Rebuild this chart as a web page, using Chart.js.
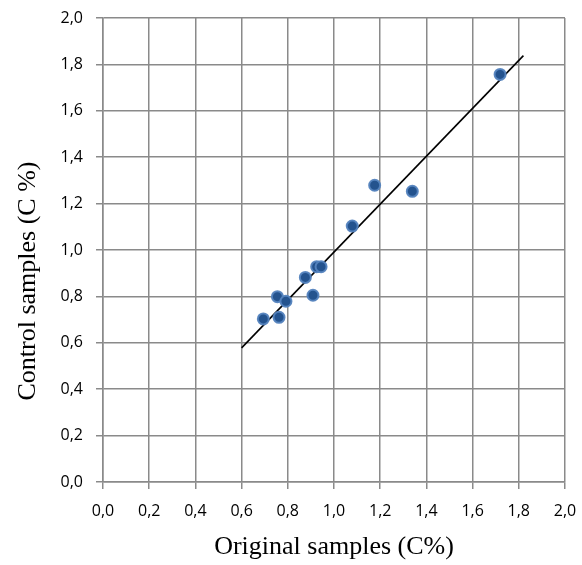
<!DOCTYPE html>
<html>
<head>
<meta charset="utf-8">
<script src="https://cdn.jsdelivr.net/npm/chart.js@4"></script>
<style>
  html, body { margin: 0; padding: 0; background: #fff; }
  #wrap { width: 582px; height: 565px; }
</style>
</head>
<body>
<div id="wrap"><canvas id="scatter-chart"></canvas></div>
<script>
const originalX = [0.694, 0.762, 0.755, 0.792, 0.909, 0.876, 0.925, 0.944, 1.079, 1.176, 1.339, 1.719]
const controlY = [0.703, 0.710, 0.799, 0.779, 0.805, 0.882, 0.928, 0.928, 1.103, 1.279, 1.253, 1.757]
const trendX = [0.6, 1.82]
const trendY = [0.578, 1.838]
const tickValues = [0, 0.2, 0.4, 0.6, 0.8, 1.0, 1.2, 1.4, 1.6, 1.8, 2.0]
const xTitle = 'Original samples (C%)'
const yTitle = 'Control samples (C %)'

const GRID_COLOR = '#8a8a8a'
const TITLE_FONT = '26px "Liberation Serif"'
const fmt = v => v.toFixed(1).replace('.', ',')

// axis titles drawn by hand so they sit where the original has them
const axisTitles = {
    id: 'axisTitles',
    afterDraw(chart) {
        const c = chart.ctx
        const area = chart.chartArea
        c.save()
        c.fillStyle = '#000'
        c.font = TITLE_FONT
        c.textAlign = 'center'
        c.textBaseline = 'alphabetic'
        c.fillText(xTitle, (area.left + area.right) / 2, 554)
        c.translate(35, 281)
        c.rotate(-Math.PI / 2)
        c.fillText(yTitle, 0, 0)
        c.restore()
    }
}

const ctx = document.getElementById('scatter-chart')

const scaleBase = {
    type: 'linear',
    min: 0,
    max: 2,
    afterBuildTicks: scale => { scale.ticks = tickValues.map(v => ({ value: v })) },
    grid: { color: GRID_COLOR, lineWidth: 1.5, tickLength: 7, drawTicks: true },
    border: { color: GRID_COLOR, width: 1.5 },
}

new Chart(ctx, {
    type: 'scatter',
    data: {
        datasets: [
            {
                label: 'samples',
                data: originalX.map((x, i) => ({ x: x, y: controlY[i] })),
                backgroundColor: '#24538e',
                borderColor: 'rgba(84,131,190,0.95)',
                borderWidth: 2,
                pointRadius: 5.5,
                order: 1,
            },
            {
                label: 'trend',
                type: 'line',
                data: trendX.map((x, i) => ({ x: x, y: trendY[i] })),
                borderColor: '#000',
                borderWidth: 1.6,
                pointRadius: 0,
                fill: false,
                order: 2,
            }
        ]
    },
    options: {
        responsive: true,
        maintainAspectRatio: false,
        animation: false,
        layout: { padding: { top: 18, right: 17, left: 0, bottom: 0 } },
        plugins: { legend: { display: false }, tooltip: { enabled: false } },
        scales: {
            x: {
                ...scaleBase,
                afterFit: scale => {
                    scale.height = 83
                    scale.paddingLeft = 0
                    scale.paddingRight = 0
                },
                ticks: {
                    color: '#000',
                    padding: 13,
                    maxRotation: 0,
                    font: { family: 'Open Sans', size: 16 },
                    callback: v => fmt(v),
                },
            },
            y: {
                ...scaleBase,
                afterFit: scale => {
                    scale.width = 103
                    scale.paddingTop = 0
                    scale.paddingBottom = 0
                },
                ticks: {
                    color: '#000',
                    padding: 13,
                    font: { family: 'Open Sans', size: 16 },
                    callback: v => fmt(v),
                },
            }
        }
    },
    plugins: [axisTitles]
})
</script>
</body>
</html>
